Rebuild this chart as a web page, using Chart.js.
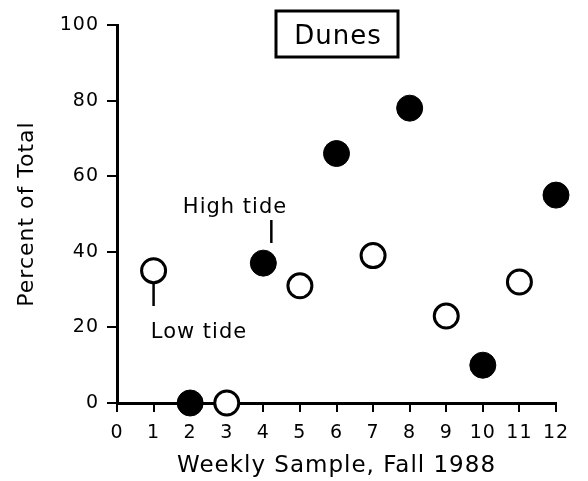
<!DOCTYPE html>
<html>
<head>
<meta charset="utf-8">
<script src="https://cdn.jsdelivr.net/npm/chart.js@4/dist/chart.umd.min.js"></script>
<style>
html,body{margin:0;padding:0;background:#fff;}
#wrap{width:588px;height:481px;}
</style>
</head>
<body>
<div id="wrap"><canvas id="c" width="588" height="481"></canvas></div>
<script>
const chartTitle = "Dunes";
const xAxisTitle = "Weekly Sample, Fall 1988";
const yAxisTitle = "Percent of Total";
const highTideWeeks = [2, 4, 6, 8, 10, 12];
const highTideValues = [0, 37, 66, 78, 10, 55];
const lowTideWeeks = [1, 3, 5, 7, 9, 11];
const lowTideValues = [35, 0, 31, 39, 23, 32];
const xTicks = [0,1,2,3,4,5,6,7,8,9,10,11,12];
const yTicks = [0,20,40,60,80,100];

const FONT = "'DejaVu Sans', 'Liberation Sans', Arial, sans-serif";

const spacing = {
  id: 'spacing',
  beforeUpdate(chart) { chart.ctx.letterSpacing = '1px'; },
  beforeDraw(chart) { chart.ctx.letterSpacing = '1px'; }
};

const decor = {
  id: 'decor',
  afterDraw(chart) {
    const ctx = chart.ctx;
    const xs = chart.scales.x;
    ctx.save();
    ctx.letterSpacing = '1px';
    // title box
    ctx.strokeStyle = '#000';
    ctx.lineWidth = 3;
    ctx.strokeRect(276, 11, 122, 46);
    ctx.fillStyle = '#000';
    ctx.font = "26px " + FONT;
    ctx.textAlign = 'center';
    ctx.textBaseline = 'alphabetic';
    ctx.fillText(chartTitle, 338, 44);
    // High tide label
    ctx.font = "21px " + FONT;
    ctx.fillText("High tide", 235, 213);
    const hx = xs.getPixelForValue(highTideWeeks[1]) + 8;
    ctx.lineWidth = 2.5;
    ctx.beginPath();
    ctx.moveTo(hx, 220); ctx.lineTo(hx, 243); ctx.stroke();
    // Low tide label
    ctx.fillText("Low tide", 199, 338);
    const lx = xs.getPixelForValue(lowTideWeeks[0]);
    ctx.beginPath();
    ctx.moveTo(lx, 283); ctx.lineTo(lx, 306); ctx.stroke();
    ctx.restore();
  }
};

new Chart(document.getElementById('c'), {
  type: 'scatter',
  data: {
    datasets: [
      {
        label: 'High tide',
        data: highTideWeeks.map((w, i) => ({x: w, y: highTideValues[i]})),
        pointRadius: 13,
        pointHoverRadius: 13,
        backgroundColor: '#000',
        borderColor: '#000',
        borderWidth: 1,
        clip: false
      },
      {
        label: 'Low tide',
        data: lowTideWeeks.map((w, i) => ({x: w, y: lowTideValues[i]})),
        pointRadius: 12,
        pointHoverRadius: 12,
        backgroundColor: '#fff',
        borderColor: '#000',
        borderWidth: 3,
        clip: false
      }
    ]
  },
  options: {
    responsive: false,
    animation: false,
    devicePixelRatio: 1,
    layout: { padding: { top: 25, right: 32, left: 0, bottom: 0 } },
    plugins: { legend: { display: false }, tooltip: { enabled: false } },
    scales: {
      x: {
        type: 'linear',
        min: 0, max: 12,
        afterBuildTicks(s) { s.ticks = xTicks.map(v => ({value: v})); },
        afterFit(s) { s.height = 78; },
        border: { display: true, color: '#000', width: 3 },
        grid: { drawOnChartArea: false, drawTicks: true, tickLength: 9, color: '#000', lineWidth: 2 },
        ticks: { color: '#000', font: { family: FONT, size: 19 }, padding: 10, maxRotation: 0, autoSkip: false },
        title: { display: true, text: xAxisTitle, color: '#000', font: { family: FONT, size: 23 }, padding: { top: 4, bottom: 1 } }
      },
      y: {
        type: 'linear',
        min: 0, max: 100,
        afterBuildTicks(s) { s.ticks = yTicks.map(v => ({value: v})); },
        afterFit(s) { s.width = 117; },
        border: { display: true, color: '#000', width: 3 },
        grid: { drawOnChartArea: false, drawTicks: true, tickLength: 10, color: '#000', lineWidth: 2 },
        ticks: { color: '#000', font: { family: FONT, size: 19 }, padding: 8 },
        title: { display: true, text: yAxisTitle, color: '#000', font: { family: FONT, size: 22 }, padding: { top: 14, bottom: 0 } }
      }
    }
  },
  plugins: [spacing, decor]
});
</script>
</body>
</html>
